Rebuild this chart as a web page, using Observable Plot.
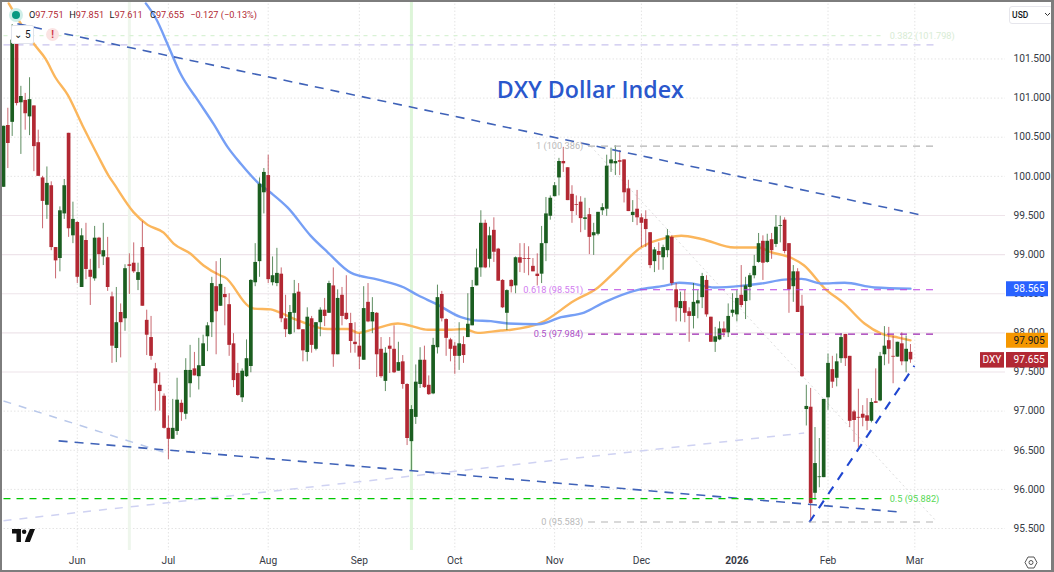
<!DOCTYPE html>
<html><head><meta charset="utf-8">
<style>
html,body{margin:0;padding:0;background:#fff;width:1054px;height:572px;overflow:hidden;font-family:Roboto,sans-serif}
#wrap{position:relative;width:1054px;height:572px}
#wrap svg.main{position:absolute;left:0;top:0}
.abs{position:absolute}
#frame{left:0;top:0;width:1049px;height:568px;border:solid #7d7d7d;border-width:2px 3px 2px 2px;pointer-events:none}
#ohlc{left:29px;top:8px;font-size:9.2px;line-height:14px;color:#b22833;white-space:nowrap;display:flex}
#ohlc span{display:block;width:40.3px}
#ohlc b{font-weight:400;color:#131722}
</style>
<script src="https://cdn.jsdelivr.net/npm/d3@7"></script>
<script src="https://cdn.jsdelivr.net/npm/@observablehq/plot@0.6"></script>
</head><body><div id="wrap"></div>
<script>
const open=[99.86,100.65,100.69,101.71,100.94,100.97,100.76,100.90,100.43,99.98,
99.63,99.88,99.09,98.95,99.52,100.55,99.24,99.41,98.58,99.18,
98.80,98.69,99.21,98.97,98.96,98.46,97.80,98.26,98.18,98.87,
98.89,98.67,99.09,98.16,97.94,97.54,97.33,97.19,96.78,96.64,
96.74,97.10,96.96,97.35,97.54,97.44,97.57,97.95,98.13,98.59,
98.34,98.49,98.36,97.86,97.48,97.17,97.44,97.57,98.64,98.91,
99.79,100.01,98.64,98.63,98.75,98.18,97.98,98.25,98.52,98.04,
97.75,98.18,97.79,98.13,98.29,98.25,98.60,97.72,98.48,98.25,
98.12,97.88,97.83,97.65,98.39,98.14,98.25,97.79,97.38,97.83,
97.79,97.51,97.63,97.34,96.61,96.92,97.34,97.65,97.33,97.22,
97.81,98.49,98.17,97.91,97.83,97.70,97.85,97.94,98.09,98.60,
98.83,99.40,98.94,99.31,99.07,98.67,98.25,98.67,98.60,98.96,
98.95,98.95,98.85,98.75,98.75,99.14,99.49,99.74,99.98,100.19,
100.11,99.77,99.64,99.67,99.45,99.51,99.24,99.26,99.56,99.58,
100.16,100.16,100.20,100.21,99.84,99.50,99.58,99.47,99.45,99.28,
98.91,99.04,98.96,99.05,99.22,98.55,98.31,98.40,98.27,98.21,
98.37,98.45,98.67,98.20,97.88,97.91,98.05,98.00,98.25,98.23,
98.48,98.40,98.58,98.73,98.90,99.17,98.90,99.19,99.13,99.36,
99.44,99.14,98.59,98.78,98.34,97.02,97.05,95.95,96.15,96.15,
97.17,97.53,97.42,97.67,97.98,97.70,96.99,96.92,96.96,96.94,
96.87,97.12,97.13,97.72,97.90,97.70,97.69,97.86,97.63,97.751];
const close=[100.64,100.42,101.74,100.93,101.02,100.80,100.98,100.38,100.00,99.68,
99.91,99.09,98.92,99.56,99.88,99.33,99.45,98.71,99.24,98.81,
98.71,99.21,99.00,99.05,98.58,97.83,98.13,98.13,98.82,98.85,
98.78,98.77,98.34,97.97,97.70,97.35,97.25,96.78,96.64,96.78,
97.14,96.98,97.52,97.52,97.45,97.58,97.86,98.09,98.63,98.27,
98.62,98.45,97.84,97.39,97.20,97.51,97.67,98.67,98.90,99.90,
100.05,98.68,98.73,98.76,98.18,98.04,98.26,98.50,98.04,97.77,
98.20,97.84,98.13,98.29,98.21,98.63,97.72,98.44,98.21,98.17,
97.89,97.85,97.69,98.31,98.14,98.26,97.72,97.44,97.74,97.79,
97.49,97.62,97.34,96.65,97.02,97.37,97.65,97.30,97.21,97.84,
98.45,98.18,97.93,97.79,97.70,97.86,97.71,98.11,98.58,98.83,
99.40,98.83,99.24,99.03,98.66,98.32,98.54,98.59,98.96,98.89,
98.94,98.94,98.78,98.72,99.14,99.52,99.72,99.88,100.19,100.16,
99.69,99.55,99.63,99.46,99.47,99.22,99.28,99.54,99.60,100.13,
100.21,100.19,100.18,99.79,99.55,99.54,99.47,99.40,99.32,98.86,
99.06,98.99,99.09,99.24,98.63,98.32,98.40,98.25,98.21,98.39,
98.41,98.72,98.23,97.88,97.95,98.05,98.00,98.21,98.29,98.44,
98.35,98.60,98.73,98.85,99.14,98.89,99.17,99.05,99.35,99.37,
99.04,98.55,98.78,98.26,97.44,97.06,95.82,96.33,96.16,97.15,
97.61,97.37,97.63,97.94,97.67,96.87,96.88,96.91,96.91,96.87,
97.11,97.10,97.70,97.83,97.79,97.69,97.88,97.63,97.79,97.655];
const high=[100.64,100.87,101.94,101.76,101.15,101.06,101.26,100.90,100.59,100.00,
100.12,99.93,99.09,99.61,99.96,100.55,99.67,99.42,99.33,99.40,
98.94,99.36,99.22,99.40,99.22,98.52,98.58,98.37,98.87,99.01,
99.15,98.89,99.42,98.29,98.21,97.61,97.49,97.22,96.94,97.15,
97.42,97.14,97.67,97.84,97.75,97.93,97.97,98.13,98.71,98.91,
98.95,98.58,98.50,97.99,97.61,97.54,97.91,98.68,99.14,99.98,
100.10,100.27,98.97,99.08,98.83,98.48,98.35,98.67,98.63,98.04,
98.32,98.21,98.13,98.32,98.44,98.66,98.83,98.55,98.58,98.73,
98.25,98.13,97.99,98.59,98.63,98.45,98.26,97.94,97.81,97.94,
98.09,97.88,97.71,97.35,97.07,97.59,97.81,97.83,97.45,97.93,
98.61,98.53,98.18,97.93,97.88,98.13,97.95,98.50,98.67,99.07,
99.56,99.44,99.35,99.47,99.08,98.68,98.55,98.68,98.97,99.14,
99.14,99.10,98.95,99.01,99.36,99.73,99.75,99.92,100.23,100.37,
100.11,99.88,99.75,99.74,99.72,99.59,99.40,99.54,99.65,100.27,
100.36,100.39,100.33,100.21,99.95,99.69,99.82,99.52,99.56,99.28,
99.09,99.15,99.12,99.32,99.24,98.63,98.52,98.54,98.32,98.63,
98.54,98.76,98.73,98.20,98.07,98.14,98.14,98.37,98.50,98.54,
98.86,98.71,98.76,98.99,99.27,99.24,99.26,99.27,99.50,99.49,
99.47,99.14,98.86,98.82,98.48,97.33,97.29,96.79,96.65,97.15,
97.73,97.70,97.73,97.99,97.98,97.70,97.01,97.28,97.07,97.16,
97.16,97.54,97.75,98.08,98.07,97.96,97.88,98.00,97.96,97.851];
const low=[99.86,100.10,100.51,100.90,100.28,100.59,100.52,100.06,100.00,99.33,
99.45,99.05,98.69,98.78,99.45,99.22,99.14,98.63,98.58,98.68,
98.35,98.66,98.82,98.86,98.53,97.61,97.62,97.68,98.02,98.49,
98.76,98.54,98.34,97.71,97.65,97.00,97.00,96.77,96.38,96.64,
96.69,96.87,96.89,97.17,97.45,97.27,97.57,97.76,97.94,97.72,
98.34,98.09,97.70,97.30,97.19,97.11,97.43,97.49,98.59,98.71,
99.52,98.63,98.60,98.59,98.13,97.94,97.97,98.00,98.04,97.63,
97.63,97.74,97.77,97.95,98.08,98.25,97.56,97.72,98.09,98.16,
97.74,97.74,97.53,97.65,98.13,97.99,97.43,97.42,97.25,97.48,
97.48,97.51,97.28,96.56,96.24,96.83,97.29,97.29,97.20,97.21,
97.73,98.14,97.70,97.63,97.47,97.52,97.61,97.94,98.09,98.60,
98.71,98.82,98.83,98.90,98.66,98.31,98.03,98.51,98.50,98.77,
98.76,98.73,98.78,98.60,98.63,98.91,99.44,99.74,99.75,100.05,
99.69,99.40,99.50,99.28,99.31,99.00,98.99,99.24,99.50,99.49,
100.05,100.01,100.01,99.66,99.55,99.41,99.37,99.09,99.09,98.82,
98.77,98.80,98.80,98.96,98.60,98.14,98.14,98.13,97.88,98.05,
98.18,98.31,98.20,97.88,97.75,97.90,97.94,97.94,98.20,98.14,
98.32,98.17,98.41,98.69,98.89,98.67,98.89,98.94,99.09,99.15,
99.01,98.25,98.39,98.26,97.43,96.81,95.58,95.86,96.02,96.15,
97.01,97.29,97.31,97.61,97.57,96.79,96.60,96.53,96.80,96.75,
96.85,97.10,97.12,97.58,97.60,97.35,97.69,97.58,97.49,97.611];

// moving averages, read at points along each line (bar number, price)
const orangeBars=[1.2,6.9,9.7,12,14.8,18.2,21.7,24.2,25.4,30,33.2,36.9,39.2,43.1,46.1,50.1,51,56.5,57.7,61.6,63.2,66.9,69.2,74.7,79.4,81.7,85.4,90.9,93.9,97.8,103.1,106.1,109.3,114.6,117,123.9,131.5,137,140.7,146.9,153.2,156.2,160.8,168.4,173.9,176.9,181.5,184.5,189.2,193.8,198.4,202.3,206.2,209];
const orangeVals=[102.21,101.70,101.50,101.26,101.04,100.65,100.27,100.01,99.91,99.54,99.38,99.28,99.14,99.01,98.86,98.73,98.71,98.34,98.31,98.30,98.27,98.18,98.13,98.05,98.05,98.00,98.05,98.12,98.09,98.04,98.04,98.05,98.00,98.03,98.04,98.13,98.41,98.58,98.77,99.09,99.22,99.24,99.20,99.09,99.09,99.03,98.96,98.86,98.57,98.37,98.12,97.99,97.94,97.905];
const blueBars=[32.8,35.1,38.1,40.8,44.8,48.4,51.7,54.7,58.8,61.6,65.5,70.8,74.7,80,86.3,92.3,95.5,99.7,105.4,108.4,112.3,116.3,123.2,128.5,133.8,138.4,146.2,152.2,155.7,158.5,163.8,170,174.6,179.9,183.9,188.5,193.8,200.7,209];
const blueVals=[102.21,102.02,101.65,101.31,100.97,100.67,100.37,100.16,99.91,99.79,99.60,99.24,99.03,98.77,98.68,98.58,98.48,98.37,98.20,98.16,98.15,98.12,98.11,98.20,98.26,98.39,98.55,98.60,98.64,98.63,98.58,98.60,98.63,98.68,98.69,98.63,98.64,98.58,98.565];

const yTicks=[95.5,96,96.5,97,97.5,98,98.5,99,99.5,100,100.5,101,101.5];
const monthTicks=[17,38,61,82,104,127,147,190,210];
const monthNames=["Jun","Jul","Aug","Sep","Oct","Nov","Dec","Feb","Mar"];
const yearTick=[169];
const yearName=["2026"];

const BLUE="#3f62b8",RED="#b22833",GREEN="#1b5e20";
const seg=(a,b,c,d)=>[{i:a,p:b},{i:c,p:d}];
const upper=seg(3.2,101.95,212,99.50);
const lower=seg(12.7,96.62,206.7,95.71);
const paleFall=seg(0,97.13,37.8,96.46);
const paleRise=seg(0,95.60,184.5,96.72);
const fibDiag=seg(135.4,100.38,215,95.59);
const rising=seg(185.7,95.58,209.9,97.58);

const bars=open.map((o,i)=>({i,o,c:close[i],h:high[i],l:low[i],up:close[i]>=o}));
const orange=orangeBars.map((i,k)=>({i,p:orangeVals[k]}));
const blue=blueBars.map((i,k)=>({i,p:blueVals[k]}));
const hLine=(p,a,b,stroke,dash,w=1.2)=>Plot.line([{i:a,p},{i:b,p}],{x:"i",y:"p",stroke,strokeWidth:w,strokeDasharray:dash,strokeLinecap:"butt"});
const dashed=(d,stroke,dash,w=1.5)=>Plot.line(d,{x:"i",y:"p",stroke,strokeWidth:w,strokeDasharray:dash,strokeLinecap:"butt"});
const label=(t,i,p,fill,anchor)=>Plot.text([t],{x:()=>i,y:()=>p,fill,textAnchor:anchor,fontSize:9.2});
const axisOpts={anchor:"right",tickSize:0,tickPadding:8,tickFormat:d3.format(".3f"),fontSize:10.2,label:null};
const xOpts={anchor:"bottom",tickSize:0,tickPadding:6,fontSize:10.2,fill:"#363a45",label:null};

const chart=Plot.plot({
  width:1054,height:572,marginLeft:0,marginTop:0,marginRight:49,marginBottom:22,
  style:{background:"transparent",fontFamily:"Roboto,sans-serif"},
  x:{type:"linear",domain:[-0.692,230.9],axis:null},
  y:{type:"linear",domain:[95.219,102.247],axis:null},
  marks:[
    Plot.ruleY(yTicks.filter(v=>v<97.5||v>99.5),{stroke:"#e4e4e4",strokeDasharray:"1.5 2"}),
    Plot.ruleY(yTicks.filter(v=>v>=97.5&&v<=99.5),{stroke:"#eee4ea",strokeWidth:1.2}),
    Plot.ruleX([...monthTicks,...yearTick],{stroke:"#e4e4e4",strokeDasharray:"1.5 2"}),
    Plot.ruleX([29],{stroke:"#eef6ec",strokeWidth:3}),
    Plot.ruleX([94],{stroke:"#ddf5d8",strokeWidth:3}),
    hLine(101.798,0,202.5,"#d9f2d5","4 5"),
    hLine(101.68,0,215,"#c9c4ee","7 6"),
    dashed(paleFall,"#b9c8ea","8 8"),
    dashed(paleRise,"#cfd2f2","8 8"),
    dashed(fibDiag,"#dddddd","2 3",1),
    Plot.line(orange,{x:"i",y:"p",stroke:"#fbb65c",strokeWidth:2.4,curve:"monotone-x"}),
    Plot.line(blue,{x:"i",y:"p",stroke:"#769ff5",strokeWidth:2.4,curve:"monotone-x"}),
    Plot.ruleX(bars,{x:"i",y1:"l",y2:"h",stroke:d=>d.up?GREEN:RED,strokeWidth:1,strokeOpacity:.7}),
    Plot.ruleX(bars,{x:"i",y1:"o",y2:"c",stroke:d=>d.up?GREEN:RED,strokeWidth:3.7}),
    dashed(upper,BLUE,"9 7",1.6),
    dashed(lower,BLUE,"9 7",1.6),
    dashed(rising,"#1f46d0","9 8",2.1),
    hLine(100.386,134.7,215,"#b3b3b3","7 6"),
    hLine(98.551,134.7,215,"#b93fe0","7 6"),
    hLine(97.984,134.7,215,"#9c27b0","7 6"),
    hLine(95.583,134.7,215,"#b3b3b3","7 6"),
    hLine(95.882,0,202.5,"#00c800","7 6"),
    label("1 (100.386)",133.6,100.386,"#b9b9b9","end"),
    label("0.618 (98.551)",133.6,98.551,"#d27cf0","end"),
    label("0.5 (97.984)",133.6,97.984,"#ab50c8","end"),
    label("0 (95.583)",133.6,95.583,"#b9b9b9","end"),
    label("0.382 (101.798)",204.2,101.798,"#d8ecd4","start"),
    label("0.5 (95.882)",204.2,95.882,"#55d855","start"),
    Plot.text(["DXY Dollar Index"],{x:()=>135.2,y:()=>101.09,fill:"#2a57cc",fontSize:23.2,fontWeight:600,fontFamily:"'Open Sans'",textAnchor:"middle"}),
    Plot.axisY(yTicks,{...axisOpts,fill:"#363a45"}),
    Plot.axisX(monthTicks,{...xOpts,tickFormat:(d)=>monthNames[monthTicks.indexOf(d)]}),
    Plot.axisX(yearTick,{...xOpts,fontWeight:700,tickFormat:()=>yearName[0]}),
    Plot.ruleY([98.565],{stroke:"#2962ff",strokeWidth:15,insetLeft:1006,insetRight:-43}),
    Plot.ruleY([97.905],{stroke:"#f59700",strokeWidth:15,insetLeft:1006,insetRight:-43}),
    Plot.ruleY([97.655],{stroke:RED,strokeWidth:15.5,insetLeft:1006,insetRight:-43}),
    Plot.ruleY([97.655],{stroke:RED,strokeWidth:15.5,insetLeft:980,insetRight:1}),
    Plot.axisY([98.565],{...axisOpts,fill:"#fff"}),
    Plot.axisY([97.905],{...axisOpts,fill:"#131722"}),
    Plot.axisY([97.655],{...axisOpts,fill:"#fff"}),
    Plot.text(["DXY"],{y:()=>97.655,frameAnchor:"right",dx:-4,textAnchor:"end",fill:"#fff",fontSize:10.2})
  ]
});
chart.setAttribute("class",(chart.getAttribute("class")||"")+" main");
const wrap=document.getElementById("wrap");
wrap.appendChild(chart);
wrap.insertAdjacentHTML("beforeend",`
<div class="abs" style="left:12px;top:11px;width:8px;height:8px;border-radius:50%;background:#089981;box-shadow:0 0 0 3px #cfeee8"></div>
<div class="abs" id="ohlc"><span><b>O</b>97.751</span><span><b>H</b>97.851</span><span><b>L</b>97.611</span><span><b>C</b>97.655</span><span style="width:auto">−0.127 (−0.13%)</span></div>
<div class="abs" style="left:11px;top:25px;width:21px;height:17px;background:#fff;border:1px solid #e0e3eb;border-radius:2px;font-size:10px;line-height:17px;color:#131722;white-space:nowrap">&nbsp;⌄&nbsp;5</div>
<div class="abs" style="left:46px;top:28px;width:13px;height:13px;border-radius:50%;background:#fbe3e3;color:#d03a4a;font-size:10px;line-height:13px;text-align:center;font-weight:700">!</div>
<div class="abs" style="left:1009px;top:6px;width:42px;height:16px;background:#fff;border:1px solid #e6e6ec;border-radius:3px;font-size:8.5px;line-height:16px;color:#131722;font-weight:500;white-space:nowrap">&nbsp;USD</div>
<svg class="abs" style="left:1044px;top:12px" width="7" height="5"><path d="M1 1l2.5 2.5L6 1" fill="none" stroke="#333"/></svg>
<svg class="abs" style="left:12px;top:529px" width="23" height="13" viewBox="0 0 36 20"><path d="M0 0h14v20H7V7H0z M22 14l6-14h8l-8 20h-8z" fill="#111"/><circle cx="19" cy="4" r="3.5" fill="#111"/></svg>
<svg class="abs" style="left:1024px;top:556px" width="14" height="13" viewBox="0 0 14 13"><path d="M1 6.5L4 1h6l3 5.5L10 12H4z" fill="none" stroke="#555"/><circle cx="7" cy="6.5" r="2" fill="none" stroke="#555"/></svg>
<div class="abs" id="frame"></div>`);
</script></body></html>
